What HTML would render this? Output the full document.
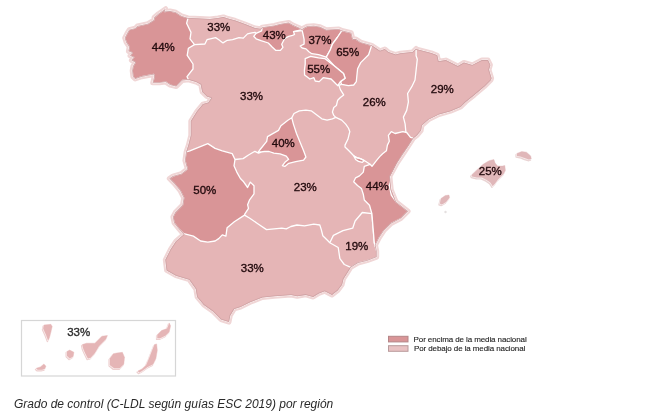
<!DOCTYPE html>
<html><head><meta charset="utf-8"><style>
html,body{margin:0;padding:0;background:#fff;width:657px;height:415px;overflow:hidden}
svg{display:block;will-change:transform}
text{font-family:"Liberation Sans",sans-serif;font-size:11.5px;fill:#230b0e;stroke:#230b0e;stroke-width:0.35px}
text.cap{stroke:none}
text.cn{fill:#2e2e2e;stroke:#2e2e2e}
text.lg{font-size:8px;letter-spacing:-0.1px;fill:#1f1f1f;stroke:#1f1f1f;stroke-width:0.12px}
text.cap{font-size:12px;font-style:italic;fill:#2a2a2a}
</style></head><body>
<svg width="657" height="415" viewBox="0 0 657 415">
<defs><mask id="mo" maskUnits="userSpaceOnUse" x="0" y="0" width="657" height="415"><rect x="0" y="0" width="657" height="415" fill="#fff"/><path d="M135.2,79.0 L132.9,76.7 L132.2,70.7 L132.9,66.3 L135.2,62.5 L131.4,60.3 L133.7,57.3 L130.0,55.8 L132.2,52.8 L128.4,51.3 L129.2,46.9 L126.2,42.4 L124.7,37.9 L127.0,33.4 L129.2,29.7 L135.2,28.2 L137.4,26.0 L147.9,23.7 L153.8,20.0 L154.1,17.4 L158.4,13.7 L165.6,8.7 L164.5,11.5 L170.0,10.9 L175.8,12.3 L181.5,15.9 L188.0,18.0 L200.0,18.5 L210.0,19.0 L218.0,18.0 L223.4,16.9 L228.0,18.5 L235.4,20.5 L245.0,24.0 L255.0,28.0 L260.4,28.8 L262.2,27.2 L274.4,25.4 L280.0,23.9 L288.7,22.4 L292.5,24.8 L299.3,27.7 L302.2,29.6 L303.1,28.2 L307.0,26.3 L313.7,25.8 L320.0,26.7 L326.3,29.7 L338.8,28.9 L342.0,30.5 L351.3,32.8 L352.9,39.1 L356.0,39.1 L360.7,42.2 L371.7,45.3 L380.0,50.8 L384.8,49.0 L388.4,52.0 L395.7,54.5 L400.5,53.3 L412.5,52.0 L416.1,48.4 L416.9,49.3 L431.3,52.9 L437.3,55.3 L438.6,61.3 L445.8,60.1 L457.8,66.1 L463.9,62.5 L472.3,64.9 L481.9,60.1 L488.0,60.1 L490.4,64.9 L489.0,69.8 L491.6,78.2 L491.0,80.0 L484.3,86.7 L474.2,95.2 L465.8,101.9 L460.7,107.0 L450.6,111.2 L438.8,114.6 L428.7,119.6 L421.9,125.5 L421.1,130.6 L416.9,135.6 L413.5,138.2 L404.3,152.3 L397.1,163.1 L389.9,176.4 L391.2,189.6 L396.0,201.7 L408.1,211.3 L400.8,218.6 L391.2,223.4 L384.0,230.6 L379.2,237.8 L375.5,245.1 L376.7,251.1 L376.7,257.1 L367.1,260.7 L358.0,263.0 L350.8,267.4 L347.2,273.2 L343.5,278.9 L342.1,284.7 L337.8,290.5 L332.0,294.9 L324.7,291.2 L318.9,293.4 L313.2,297.0 L305.9,294.9 L297.2,296.3 L291.2,295.1 L274.3,296.3 L262.3,297.5 L250.2,302.3 L240.6,307.1 L234.3,308.9 L230.3,315.5 L229.0,322.1 L221.0,319.5 L213.0,311.5 L203.8,304.9 L197.1,296.9 L195.8,289.0 L189.2,279.7 L175.9,275.7 L166.6,270.4 L165.3,259.8 L170.6,249.2 L175.9,241.2 L183.7,234.5 L178.9,228.9 L174.1,222.9 L172.9,216.9 L175.3,212.3 L182.5,205.1 L183.7,197.8 L180.1,190.6 L174.1,183.4 L169.3,178.6 L172.9,176.1 L181.3,173.7 L187.3,168.9 L184.9,160.5 L186.1,152.0 L188.4,145.0 L190.8,135.4 L190.8,121.0 L196.9,111.3 L202.9,104.1 L208.3,102.6 L211.3,98.1 L206.8,96.5 L202.2,92.0 L200.7,84.4 L196.1,82.1 L188.5,79.8 L182.4,80.5 L176.3,86.6 L170.2,85.1 L165.7,82.1 L159.6,82.8 L152.7,82.8 L154.2,76.7 L153.8,74.5 L141.9,76.7Z" fill="#000"/></mask><mask id="mi" maskUnits="userSpaceOnUse" x="0" y="0" width="657" height="415"><path d="M135.2,79.0 L132.9,76.7 L132.2,70.7 L132.9,66.3 L135.2,62.5 L131.4,60.3 L133.7,57.3 L130.0,55.8 L132.2,52.8 L128.4,51.3 L129.2,46.9 L126.2,42.4 L124.7,37.9 L127.0,33.4 L129.2,29.7 L135.2,28.2 L137.4,26.0 L147.9,23.7 L153.8,20.0 L154.1,17.4 L158.4,13.7 L165.6,8.7 L164.5,11.5 L170.0,10.9 L175.8,12.3 L181.5,15.9 L188.0,18.0 L200.0,18.5 L210.0,19.0 L218.0,18.0 L223.4,16.9 L228.0,18.5 L235.4,20.5 L245.0,24.0 L255.0,28.0 L260.4,28.8 L262.2,27.2 L274.4,25.4 L280.0,23.9 L288.7,22.4 L292.5,24.8 L299.3,27.7 L302.2,29.6 L303.1,28.2 L307.0,26.3 L313.7,25.8 L320.0,26.7 L326.3,29.7 L338.8,28.9 L342.0,30.5 L351.3,32.8 L352.9,39.1 L356.0,39.1 L360.7,42.2 L371.7,45.3 L380.0,50.8 L384.8,49.0 L388.4,52.0 L395.7,54.5 L400.5,53.3 L412.5,52.0 L416.1,48.4 L416.9,49.3 L431.3,52.9 L437.3,55.3 L438.6,61.3 L445.8,60.1 L457.8,66.1 L463.9,62.5 L472.3,64.9 L481.9,60.1 L488.0,60.1 L490.4,64.9 L489.0,69.8 L491.6,78.2 L491.0,80.0 L484.3,86.7 L474.2,95.2 L465.8,101.9 L460.7,107.0 L450.6,111.2 L438.8,114.6 L428.7,119.6 L421.9,125.5 L421.1,130.6 L416.9,135.6 L413.5,138.2 L404.3,152.3 L397.1,163.1 L389.9,176.4 L391.2,189.6 L396.0,201.7 L408.1,211.3 L400.8,218.6 L391.2,223.4 L384.0,230.6 L379.2,237.8 L375.5,245.1 L376.7,251.1 L376.7,257.1 L367.1,260.7 L358.0,263.0 L350.8,267.4 L347.2,273.2 L343.5,278.9 L342.1,284.7 L337.8,290.5 L332.0,294.9 L324.7,291.2 L318.9,293.4 L313.2,297.0 L305.9,294.9 L297.2,296.3 L291.2,295.1 L274.3,296.3 L262.3,297.5 L250.2,302.3 L240.6,307.1 L234.3,308.9 L230.3,315.5 L229.0,322.1 L221.0,319.5 L213.0,311.5 L203.8,304.9 L197.1,296.9 L195.8,289.0 L189.2,279.7 L175.9,275.7 L166.6,270.4 L165.3,259.8 L170.6,249.2 L175.9,241.2 L183.7,234.5 L178.9,228.9 L174.1,222.9 L172.9,216.9 L175.3,212.3 L182.5,205.1 L183.7,197.8 L180.1,190.6 L174.1,183.4 L169.3,178.6 L172.9,176.1 L181.3,173.7 L187.3,168.9 L184.9,160.5 L186.1,152.0 L188.4,145.0 L190.8,135.4 L190.8,121.0 L196.9,111.3 L202.9,104.1 L208.3,102.6 L211.3,98.1 L206.8,96.5 L202.2,92.0 L200.7,84.4 L196.1,82.1 L188.5,79.8 L182.4,80.5 L176.3,86.6 L170.2,85.1 L165.7,82.1 L159.6,82.8 L152.7,82.8 L154.2,76.7 L153.8,74.5 L141.9,76.7Z" fill="#fff"/></mask></defs>
<path d="M135.2,79.0 L132.9,76.7 L132.2,70.7 L132.9,66.3 L135.2,62.5 L131.4,60.3 L133.7,57.3 L130.0,55.8 L132.2,52.8 L128.4,51.3 L129.2,46.9 L126.2,42.4 L124.7,37.9 L127.0,33.4 L129.2,29.7 L135.2,28.2 L137.4,26.0 L147.9,23.7 L153.8,20.0 L154.1,17.4 L158.4,13.7 L165.6,8.7 L164.5,11.5 L170.0,10.9 L175.8,12.3 L181.5,15.9 L188.0,18.0 L200.0,18.5 L210.0,19.0 L218.0,18.0 L223.4,16.9 L228.0,18.5 L235.4,20.5 L245.0,24.0 L255.0,28.0 L260.4,28.8 L262.2,27.2 L274.4,25.4 L280.0,23.9 L288.7,22.4 L292.5,24.8 L299.3,27.7 L302.2,29.6 L303.1,28.2 L307.0,26.3 L313.7,25.8 L320.0,26.7 L326.3,29.7 L338.8,28.9 L342.0,30.5 L351.3,32.8 L352.9,39.1 L356.0,39.1 L360.7,42.2 L371.7,45.3 L380.0,50.8 L384.8,49.0 L388.4,52.0 L395.7,54.5 L400.5,53.3 L412.5,52.0 L416.1,48.4 L416.9,49.3 L431.3,52.9 L437.3,55.3 L438.6,61.3 L445.8,60.1 L457.8,66.1 L463.9,62.5 L472.3,64.9 L481.9,60.1 L488.0,60.1 L490.4,64.9 L489.0,69.8 L491.6,78.2 L491.0,80.0 L484.3,86.7 L474.2,95.2 L465.8,101.9 L460.7,107.0 L450.6,111.2 L438.8,114.6 L428.7,119.6 L421.9,125.5 L421.1,130.6 L416.9,135.6 L413.5,138.2 L404.3,152.3 L397.1,163.1 L389.9,176.4 L391.2,189.6 L396.0,201.7 L408.1,211.3 L400.8,218.6 L391.2,223.4 L384.0,230.6 L379.2,237.8 L375.5,245.1 L376.7,251.1 L376.7,257.1 L367.1,260.7 L358.0,263.0 L350.8,267.4 L347.2,273.2 L343.5,278.9 L342.1,284.7 L337.8,290.5 L332.0,294.9 L324.7,291.2 L318.9,293.4 L313.2,297.0 L305.9,294.9 L297.2,296.3 L291.2,295.1 L274.3,296.3 L262.3,297.5 L250.2,302.3 L240.6,307.1 L234.3,308.9 L230.3,315.5 L229.0,322.1 L221.0,319.5 L213.0,311.5 L203.8,304.9 L197.1,296.9 L195.8,289.0 L189.2,279.7 L175.9,275.7 L166.6,270.4 L165.3,259.8 L170.6,249.2 L175.9,241.2 L183.7,234.5 L178.9,228.9 L174.1,222.9 L172.9,216.9 L175.3,212.3 L182.5,205.1 L183.7,197.8 L180.1,190.6 L174.1,183.4 L169.3,178.6 L172.9,176.1 L181.3,173.7 L187.3,168.9 L184.9,160.5 L186.1,152.0 L188.4,145.0 L190.8,135.4 L190.8,121.0 L196.9,111.3 L202.9,104.1 L208.3,102.6 L211.3,98.1 L206.8,96.5 L202.2,92.0 L200.7,84.4 L196.1,82.1 L188.5,79.8 L182.4,80.5 L176.3,86.6 L170.2,85.1 L165.7,82.1 L159.6,82.8 L152.7,82.8 L154.2,76.7 L153.8,74.5 L141.9,76.7Z" fill="none" stroke="#f0d6d6" stroke-width="5" stroke-linejoin="round" mask="url(#mo)"/>
<path d="M135.2,79.0 L132.9,76.7 L132.2,70.7 L132.9,66.3 L135.2,62.5 L131.4,60.3 L133.7,57.3 L130.0,55.8 L132.2,52.8 L128.4,51.3 L129.2,46.9 L126.2,42.4 L124.7,37.9 L127.0,33.4 L129.2,29.7 L135.2,28.2 L137.4,26.0 L147.9,23.7 L153.8,20.0 L154.1,17.4 L158.4,13.7 L165.6,8.7 L164.5,11.5 L170.0,10.9 L175.8,12.3 L181.5,15.9 L188.0,18.0 L200.0,18.5 L210.0,19.0 L218.0,18.0 L223.4,16.9 L228.0,18.5 L235.4,20.5 L245.0,24.0 L255.0,28.0 L260.4,28.8 L262.2,27.2 L274.4,25.4 L280.0,23.9 L288.7,22.4 L292.5,24.8 L299.3,27.7 L302.2,29.6 L303.1,28.2 L307.0,26.3 L313.7,25.8 L320.0,26.7 L326.3,29.7 L338.8,28.9 L342.0,30.5 L351.3,32.8 L352.9,39.1 L356.0,39.1 L360.7,42.2 L371.7,45.3 L380.0,50.8 L384.8,49.0 L388.4,52.0 L395.7,54.5 L400.5,53.3 L412.5,52.0 L416.1,48.4 L416.9,49.3 L431.3,52.9 L437.3,55.3 L438.6,61.3 L445.8,60.1 L457.8,66.1 L463.9,62.5 L472.3,64.9 L481.9,60.1 L488.0,60.1 L490.4,64.9 L489.0,69.8 L491.6,78.2 L491.0,80.0 L484.3,86.7 L474.2,95.2 L465.8,101.9 L460.7,107.0 L450.6,111.2 L438.8,114.6 L428.7,119.6 L421.9,125.5 L421.1,130.6 L416.9,135.6 L413.5,138.2 L404.3,152.3 L397.1,163.1 L389.9,176.4 L391.2,189.6 L396.0,201.7 L408.1,211.3 L400.8,218.6 L391.2,223.4 L384.0,230.6 L379.2,237.8 L375.5,245.1 L376.7,251.1 L376.7,257.1 L367.1,260.7 L358.0,263.0 L350.8,267.4 L347.2,273.2 L343.5,278.9 L342.1,284.7 L337.8,290.5 L332.0,294.9 L324.7,291.2 L318.9,293.4 L313.2,297.0 L305.9,294.9 L297.2,296.3 L291.2,295.1 L274.3,296.3 L262.3,297.5 L250.2,302.3 L240.6,307.1 L234.3,308.9 L230.3,315.5 L229.0,322.1 L221.0,319.5 L213.0,311.5 L203.8,304.9 L197.1,296.9 L195.8,289.0 L189.2,279.7 L175.9,275.7 L166.6,270.4 L165.3,259.8 L170.6,249.2 L175.9,241.2 L183.7,234.5 L178.9,228.9 L174.1,222.9 L172.9,216.9 L175.3,212.3 L182.5,205.1 L183.7,197.8 L180.1,190.6 L174.1,183.4 L169.3,178.6 L172.9,176.1 L181.3,173.7 L187.3,168.9 L184.9,160.5 L186.1,152.0 L188.4,145.0 L190.8,135.4 L190.8,121.0 L196.9,111.3 L202.9,104.1 L208.3,102.6 L211.3,98.1 L206.8,96.5 L202.2,92.0 L200.7,84.4 L196.1,82.1 L188.5,79.8 L182.4,80.5 L176.3,86.6 L170.2,85.1 L165.7,82.1 L159.6,82.8 L152.7,82.8 L154.2,76.7 L153.8,74.5 L141.9,76.7Z" fill="none" stroke="#fff" stroke-width="0.9" stroke-linejoin="round" mask="url(#mo)"/>
<path d="M135.2,79.0 L132.9,76.7 L132.2,70.7 L132.9,66.3 L135.2,62.5 L131.4,60.3 L133.7,57.3 L130.0,55.8 L132.2,52.8 L128.4,51.3 L129.2,46.9 L126.2,42.4 L124.7,37.9 L127.0,33.4 L129.2,29.7 L135.2,28.2 L137.4,26.0 L147.9,23.7 L153.8,20.0 L154.1,17.4 L158.4,13.7 L165.6,8.7 L164.5,11.5 L170.0,10.9 L175.8,12.3 L181.5,15.9 L188.0,18.0 L200.0,18.5 L210.0,19.0 L218.0,18.0 L223.4,16.9 L228.0,18.5 L235.4,20.5 L245.0,24.0 L255.0,28.0 L260.4,28.8 L262.2,27.2 L274.4,25.4 L280.0,23.9 L288.7,22.4 L292.5,24.8 L299.3,27.7 L302.2,29.6 L303.1,28.2 L307.0,26.3 L313.7,25.8 L320.0,26.7 L326.3,29.7 L338.8,28.9 L342.0,30.5 L351.3,32.8 L352.9,39.1 L356.0,39.1 L360.7,42.2 L371.7,45.3 L380.0,50.8 L384.8,49.0 L388.4,52.0 L395.7,54.5 L400.5,53.3 L412.5,52.0 L416.1,48.4 L416.9,49.3 L431.3,52.9 L437.3,55.3 L438.6,61.3 L445.8,60.1 L457.8,66.1 L463.9,62.5 L472.3,64.9 L481.9,60.1 L488.0,60.1 L490.4,64.9 L489.0,69.8 L491.6,78.2 L491.0,80.0 L484.3,86.7 L474.2,95.2 L465.8,101.9 L460.7,107.0 L450.6,111.2 L438.8,114.6 L428.7,119.6 L421.9,125.5 L421.1,130.6 L416.9,135.6 L413.5,138.2 L404.3,152.3 L397.1,163.1 L389.9,176.4 L391.2,189.6 L396.0,201.7 L408.1,211.3 L400.8,218.6 L391.2,223.4 L384.0,230.6 L379.2,237.8 L375.5,245.1 L376.7,251.1 L376.7,257.1 L367.1,260.7 L358.0,263.0 L350.8,267.4 L347.2,273.2 L343.5,278.9 L342.1,284.7 L337.8,290.5 L332.0,294.9 L324.7,291.2 L318.9,293.4 L313.2,297.0 L305.9,294.9 L297.2,296.3 L291.2,295.1 L274.3,296.3 L262.3,297.5 L250.2,302.3 L240.6,307.1 L234.3,308.9 L230.3,315.5 L229.0,322.1 L221.0,319.5 L213.0,311.5 L203.8,304.9 L197.1,296.9 L195.8,289.0 L189.2,279.7 L175.9,275.7 L166.6,270.4 L165.3,259.8 L170.6,249.2 L175.9,241.2 L183.7,234.5 L178.9,228.9 L174.1,222.9 L172.9,216.9 L175.3,212.3 L182.5,205.1 L183.7,197.8 L180.1,190.6 L174.1,183.4 L169.3,178.6 L172.9,176.1 L181.3,173.7 L187.3,168.9 L184.9,160.5 L186.1,152.0 L188.4,145.0 L190.8,135.4 L190.8,121.0 L196.9,111.3 L202.9,104.1 L208.3,102.6 L211.3,98.1 L206.8,96.5 L202.2,92.0 L200.7,84.4 L196.1,82.1 L188.5,79.8 L182.4,80.5 L176.3,86.6 L170.2,85.1 L165.7,82.1 L159.6,82.8 L152.7,82.8 L154.2,76.7 L153.8,74.5 L141.9,76.7Z" fill="#e5b5b6" stroke="none"/>
<g mask="url(#mi)">
<path d="M362.3,212.5 L371.9,213.7 L373.1,228.2 L374.3,242.7 L376.7,251.1 L376.7,257.1 L367.1,260.7 L358.0,263.0 L350.8,267.4 L344.3,264.5 L339.9,258.7 L338.2,247.5 L329.8,242.7 L333.4,235.4 L343.0,230.6 L352.7,228.2 L355.1,221.0Z" fill="#e5b5b6" stroke="#fff" stroke-width="1.3" stroke-linejoin="round"/>
<path d="M135.2,79.0 L132.9,76.7 L132.2,70.7 L132.9,66.3 L135.2,62.5 L131.4,60.3 L133.7,57.3 L130.0,55.8 L132.2,52.8 L128.4,51.3 L129.2,46.9 L126.2,42.4 L124.7,37.9 L127.0,33.4 L129.2,29.7 L135.2,28.2 L137.4,26.0 L147.9,23.7 L153.8,20.0 L154.1,17.4 L158.4,13.7 L165.6,8.7 L164.5,11.5 L170.0,10.9 L175.8,12.3 L181.5,15.9 L188.0,18.0 L186.6,23.3 L191.0,32.4 L190.0,38.8 L194.5,44.6 L188.4,48.2 L187.2,55.4 L193.0,64.0 L193.0,69.0 L187.0,76.7 L188.5,79.8 L182.4,80.5 L176.3,86.6 L170.2,85.1 L165.7,82.1 L159.6,82.8 L152.7,82.8 L154.2,76.7 L153.8,74.5 L141.9,76.7Z" fill="#d99597" stroke="#fff" stroke-width="1.3" stroke-linejoin="round"/>
<path d="M262.2,27.2 L274.4,25.4 L280.0,23.9 L288.7,22.4 L292.5,24.8 L299.3,27.7 L302.2,29.6 L293.5,31.6 L294.5,34.5 L292.5,35.4 L288.7,36.4 L284.8,38.3 L281.7,44.2 L282.9,47.3 L280.4,50.3 L275.6,50.3 L271.9,46.7 L268.3,43.0 L261.0,40.6 L256.1,38.8 L253.7,36.3 L256.1,33.3 L261.6,30.8Z" fill="#d99597" stroke="#fff" stroke-width="1.3" stroke-linejoin="round"/>
<path d="M303.1,28.2 L307.0,26.3 L313.7,25.8 L320.0,26.7 L326.3,29.7 L338.8,28.9 L342.0,30.5 L337.3,37.5 L332.6,43.8 L330.2,50.0 L326.3,57.1 L318.6,54.7 L311.8,53.7 L308.9,51.8 L306.0,48.9 L302.2,48.0 L300.2,46.0 L304.1,44.1 L304.1,39.3 L303.1,34.5 L302.2,30.6Z" fill="#d99597" stroke="#fff" stroke-width="1.3" stroke-linejoin="round"/>
<path d="M342.0,30.5 L351.3,32.8 L352.9,39.1 L356.0,39.1 L360.7,42.2 L371.7,45.3 L368.6,54.7 L360.7,62.6 L357.6,68.8 L356.8,76.6 L356.3,81.6 L353.7,85.0 L348.4,85.6 L341.7,84.3 L340.4,81.6 L345.1,78.2 L343.5,73.5 L334.1,65.7 L326.3,57.1 L330.2,50.0 L332.6,43.8 L337.3,37.5Z" fill="#d99597" stroke="#fff" stroke-width="1.3" stroke-linejoin="round"/>
<path d="M305.2,58.6 L310.6,56.3 L318.5,57.9 L324.7,58.6 L334.1,65.7 L343.5,73.5 L345.1,78.2 L340.4,81.6 L337.7,85.6 L335.1,83.0 L331.1,79.0 L323.2,77.7 L319.2,81.6 L315.2,81.0 L313.9,77.7 L309.9,79.0 L304.6,75.0 L304.4,70.4 L305.2,64.1Z" fill="#d99597" stroke="#fff" stroke-width="1.3" stroke-linejoin="round"/>
<path d="M186.1,152.0 L189.8,150.8 L207.8,143.6 L215.1,148.4 L222.3,150.8 L232.2,153.6 L235.0,159.5 L234.0,165.8 L236.8,172.1 L240.4,178.5 L243.1,181.2 L247.6,187.5 L250.3,182.1 L254.0,185.7 L254.0,193.9 L249.4,200.2 L247.6,204.7 L248.5,208.3 L244.9,213.8 L244.5,215.1 L234.3,221.7 L227.1,227.7 L225.9,236.1 L222.3,234.9 L218.7,238.6 L215.1,241.0 L207.8,242.2 L200.6,241.0 L193.4,236.1 L188.6,234.9 L183.7,233.7 L178.9,228.9 L174.1,222.9 L172.9,216.9 L175.3,212.3 L182.5,205.1 L183.7,197.8 L180.1,190.6 L174.1,183.4 L169.3,178.6 L172.9,176.1 L181.3,173.7 L187.3,168.9 L184.9,160.5Z" fill="#d99597" stroke="#fff" stroke-width="1.3" stroke-linejoin="round"/>
<path d="M291.8,117.8 L293.4,124.1 L296.5,133.5 L300.4,142.9 L303.6,150.7 L305.9,157.0 L303.6,160.1 L295.7,161.7 L288.7,163.3 L284.8,166.4 L282.4,165.6 L285.5,161.7 L288.7,159.3 L286.3,156.2 L280.1,153.9 L273.8,153.1 L269.1,151.5 L264.4,151.5 L258.1,152.3 L259.7,150.0 L266.7,141.3 L267.5,136.6 L278.5,130.4 L280.9,125.7 L287.9,120.2Z" fill="#d99597" stroke="#fff" stroke-width="1.3" stroke-linejoin="round"/>
<path d="M413.5,138.2 L408.6,147.0 L402.8,154.7 L397.1,164.3 L392.2,175.9 L389.3,185.5 L391.3,195.2 L396.0,201.7 L408.1,211.3 L400.8,218.6 L391.2,223.4 L384.0,230.6 L379.2,237.8 L375.5,245.1 L376.7,251.1 L374.3,242.7 L373.1,228.2 L371.9,213.7 L369.5,205.3 L364.3,200.0 L363.3,194.2 L361.4,188.4 L357.5,185.5 L353.7,181.7 L355.6,177.8 L359.5,175.9 L363.3,172.1 L364.3,166.3 L370.1,164.3 L372.0,166.3 L375.8,161.4 L379.7,156.6 L382.6,153.7 L386.4,150.8 L387.4,145.1 L389.3,141.2 L388.4,135.4 L391.3,131.6 L395.1,133.5 L402.8,131.6 L406.7,132.5 L410.5,137.4Z" fill="#d99597" stroke="#fff" stroke-width="1.3" stroke-linejoin="round"/>
<path d="M353.7,155.7 L356.6,157.6 L360.4,158.6 L364.3,160.5 L362.3,162.4 L358.5,161.4 L355.6,159.5Z" fill="#d99597" stroke="#fff" stroke-width="1.3" stroke-linejoin="round"/>
<path d="M194.5,44.6 L204.9,44.0 L207.0,39.7 L211.3,38.7 L215.6,37.6 L218.8,39.7 L223.0,42.9 L227.3,40.3 L232.6,39.7 L239.0,37.6 L243.3,38.1 L247.5,33.9 L251.8,32.8 L255.0,32.3 L256.1,33.3" fill="none" stroke="#fff" stroke-width="1.3" stroke-linejoin="round"/>
<path d="M293.5,31.6 L302.2,30.6" fill="none" stroke="#fff" stroke-width="1.3" stroke-linejoin="round"/>
<path d="M339.0,85.6 L340.4,89.6 L343.7,94.9 L340.4,97.5 L337.7,100.2 L336.4,105.5 L333.8,107.5 L332.4,112.1 L333.8,115.4 L335.8,117.4" fill="none" stroke="#fff" stroke-width="1.3" stroke-linejoin="round"/>
<path d="M291.8,117.8 L294.0,113.5 L299.3,110.8 L305.9,110.1 L311.2,110.8 L316.5,114.8 L321.8,118.8 L327.1,120.1 L332.4,118.8 L335.8,117.4" fill="none" stroke="#fff" stroke-width="1.3" stroke-linejoin="round"/>
<path d="M235.0,159.5 L243.1,158.6 L248.5,155.0 L254.9,151.3 L258.5,153.1 L261.2,152.2" fill="none" stroke="#fff" stroke-width="1.3" stroke-linejoin="round"/>
<path d="M244.5,215.1 L249.8,218.2 L257.4,223.5 L266.5,229.6 L274.1,228.8 L281.8,228.1 L286.3,228.8 L290.9,226.5 L297.0,225.0 L304.6,225.8 L313.7,224.2 L319.8,225.0 L321.3,229.6 L322.8,235.7 L327.4,240.2 L329.8,242.7" fill="none" stroke="#fff" stroke-width="1.3" stroke-linejoin="round"/>
<path d="M335.8,117.4 L341.7,120.1 L345.7,124.1 L348.4,128.0 L349.8,131.6 L347.9,139.3 L345.0,145.1 L345.0,147.0 L348.9,150.8 L353.7,155.7 L356.6,157.6 L360.4,158.6 L364.3,160.5 L370.1,164.3" fill="none" stroke="#fff" stroke-width="1.3" stroke-linejoin="round"/>
<path d="M416.1,48.4 L416.1,55.7 L417.3,59.3 L416.1,70.1 L415.0,80.0 L411.8,86.7 L407.6,93.5 L408.4,101.9 L406.7,110.4 L403.4,117.1 L405.1,123.8 L405.9,132.3" fill="none" stroke="#fff" stroke-width="1.3" stroke-linejoin="round"/>
<path d="M337.7,85.6 L341.7,84.3" fill="none" stroke="#fff" stroke-width="1.3" stroke-linejoin="round"/>
</g>
<path d="M135.2,79.0 L132.9,76.7 L132.2,70.7 L132.9,66.3 L135.2,62.5 L131.4,60.3 L133.7,57.3 L130.0,55.8 L132.2,52.8 L128.4,51.3 L129.2,46.9 L126.2,42.4 L124.7,37.9 L127.0,33.4 L129.2,29.7 L135.2,28.2 L137.4,26.0 L147.9,23.7 L153.8,20.0 L154.1,17.4 L158.4,13.7 L165.6,8.7 L164.5,11.5 L170.0,10.9 L175.8,12.3 L181.5,15.9 L188.0,18.0 L200.0,18.5 L210.0,19.0 L218.0,18.0 L223.4,16.9 L228.0,18.5 L235.4,20.5 L245.0,24.0 L255.0,28.0 L260.4,28.8 L262.2,27.2 L274.4,25.4 L280.0,23.9 L288.7,22.4 L292.5,24.8 L299.3,27.7 L302.2,29.6 L303.1,28.2 L307.0,26.3 L313.7,25.8 L320.0,26.7 L326.3,29.7 L338.8,28.9 L342.0,30.5 L351.3,32.8 L352.9,39.1 L356.0,39.1 L360.7,42.2 L371.7,45.3 L380.0,50.8 L384.8,49.0 L388.4,52.0 L395.7,54.5 L400.5,53.3 L412.5,52.0 L416.1,48.4 L416.9,49.3 L431.3,52.9 L437.3,55.3 L438.6,61.3 L445.8,60.1 L457.8,66.1 L463.9,62.5 L472.3,64.9 L481.9,60.1 L488.0,60.1 L490.4,64.9 L489.0,69.8 L491.6,78.2 L491.0,80.0 L484.3,86.7 L474.2,95.2 L465.8,101.9 L460.7,107.0 L450.6,111.2 L438.8,114.6 L428.7,119.6 L421.9,125.5 L421.1,130.6 L416.9,135.6 L413.5,138.2 L404.3,152.3 L397.1,163.1 L389.9,176.4 L391.2,189.6 L396.0,201.7 L408.1,211.3 L400.8,218.6 L391.2,223.4 L384.0,230.6 L379.2,237.8 L375.5,245.1 L376.7,251.1 L376.7,257.1 L367.1,260.7 L358.0,263.0 L350.8,267.4 L347.2,273.2 L343.5,278.9 L342.1,284.7 L337.8,290.5 L332.0,294.9 L324.7,291.2 L318.9,293.4 L313.2,297.0 L305.9,294.9 L297.2,296.3 L291.2,295.1 L274.3,296.3 L262.3,297.5 L250.2,302.3 L240.6,307.1 L234.3,308.9 L230.3,315.5 L229.0,322.1 L221.0,319.5 L213.0,311.5 L203.8,304.9 L197.1,296.9 L195.8,289.0 L189.2,279.7 L175.9,275.7 L166.6,270.4 L165.3,259.8 L170.6,249.2 L175.9,241.2 L183.7,234.5 L178.9,228.9 L174.1,222.9 L172.9,216.9 L175.3,212.3 L182.5,205.1 L183.7,197.8 L180.1,190.6 L174.1,183.4 L169.3,178.6 L172.9,176.1 L181.3,173.7 L187.3,168.9 L184.9,160.5 L186.1,152.0 L188.4,145.0 L190.8,135.4 L190.8,121.0 L196.9,111.3 L202.9,104.1 L208.3,102.6 L211.3,98.1 L206.8,96.5 L202.2,92.0 L200.7,84.4 L196.1,82.1 L188.5,79.8 L182.4,80.5 L176.3,86.6 L170.2,85.1 L165.7,82.1 L159.6,82.8 L152.7,82.8 L154.2,76.7 L153.8,74.5 L141.9,76.7Z" fill="none" stroke="#cfa3a5" stroke-width="1.6" stroke-linejoin="round" mask="url(#mi)"/>
<path d="M470.8,176.3 L475.1,172.1 L482.3,165.5 L488.3,161.9 L493.1,160.7 L494.3,164.3 L496.8,167.3 L501.6,167.3 L504.0,166.7 L504.6,171.5 L502.8,175.1 L499.2,178.8 L496.8,181.2 L494.3,184.8 L491.9,187.2 L489.5,183.6 L485.9,181.2 L481.1,178.8 L476.3,178.8 L471.4,177.6Z" fill="#e9d3d3" stroke="#e9d3d3" stroke-width="1.4" stroke-linejoin="round"/>
<path d="M471.6,175.1 L475.9,170.9 L483.1,164.3 L489.1,160.7 L493.9,159.5 L495.1,163.1 L497.6,166.1 L502.4,166.1 L504.8,165.5 L505.4,170.3 L503.6,173.9 L500.0,177.6 L497.6,180.0 L495.1,183.6 L492.7,186.0 L490.3,182.4 L486.7,180.0 L481.9,177.6 L477.1,177.6 L472.2,176.4Z" fill="#fff" stroke="#fff" stroke-width="1.3" stroke-linejoin="round"/>
<path d="M471.6,175.1 L475.9,170.9 L483.1,164.3 L489.1,160.7 L493.9,159.5 L495.1,163.1 L497.6,166.1 L502.4,166.1 L504.8,165.5 L505.4,170.3 L503.6,173.9 L500.0,177.6 L497.6,180.0 L495.1,183.6 L492.7,186.0 L490.3,182.4 L486.7,180.0 L481.9,177.6 L477.1,177.6 L472.2,176.4Z" fill="#e0b7b9" stroke="#e0b7b9" stroke-width="0.4" stroke-linejoin="round"/>
<path d="M516.1,154.6 L520.9,152.8 L525.7,153.4 L529.9,157.1 L530.5,160.1 L528.1,160.7 L524.5,159.5 L519.7,157.7 L516.1,157.1Z" fill="#e9d3d3" stroke="#e9d3d3" stroke-width="1.4" stroke-linejoin="round"/>
<path d="M516.9,153.4 L521.7,151.6 L526.5,152.2 L530.7,155.9 L531.3,158.9 L528.9,159.5 L525.3,158.3 L520.5,156.5 L516.9,155.9Z" fill="#fff" stroke="#fff" stroke-width="1.3" stroke-linejoin="round"/>
<path d="M516.9,153.4 L521.7,151.6 L526.5,152.2 L530.7,155.9 L531.3,158.9 L528.9,159.5 L525.3,158.3 L520.5,156.5 L516.9,155.9Z" fill="#e0b7b9" stroke="#e0b7b9" stroke-width="0.4" stroke-linejoin="round"/>
<path d="M439.0,204.8 L440.2,199.7 L444.5,196.7 L448.2,196.3 L448.7,198.9 L445.3,203.1 L441.1,205.6Z" fill="#e9d3d3" stroke="#e9d3d3" stroke-width="1.4" stroke-linejoin="round"/>
<path d="M439.8,203.6 L441.0,198.5 L445.3,195.5 L449.0,195.1 L449.5,197.7 L446.1,201.9 L441.9,204.4Z" fill="#fff" stroke="#fff" stroke-width="1.3" stroke-linejoin="round"/>
<path d="M439.8,203.6 L441.0,198.5 L445.3,195.5 L449.0,195.1 L449.5,197.7 L446.1,201.9 L441.9,204.4Z" fill="#e0b7b9" stroke="#e0b7b9" stroke-width="0.4" stroke-linejoin="round"/>
<circle cx="445.5" cy="212" r="1.2" fill="#e4e0e0"/>
<rect x="21.5" y="320.5" width="154" height="55.5" fill="none" stroke="#d6d6d6" stroke-width="1.2"/>
<path d="M43.2,326.1 L50.2,325.4 L51.5,327.5 L50.2,333.1 L48.8,338.7 L47.4,341.5 L45.3,335.9 L42.5,329.6Z" fill="#eed0d0" stroke="#eed0d0" stroke-width="1.4" stroke-linejoin="round"/>
<path d="M43.9,325.0 L50.9,324.3 L52.2,326.4 L50.9,332.0 L49.5,337.6 L48.1,340.4 L46.0,334.8 L43.2,328.5Z" fill="#fff" stroke="#fff" stroke-width="1.3" stroke-linejoin="round"/>
<path d="M43.9,325.0 L50.9,324.3 L52.2,326.4 L50.9,332.0 L49.5,337.6 L48.1,340.4 L46.0,334.8 L43.2,328.5Z" fill="#e5b5b6" stroke="#e5b5b6" stroke-width="0.4" stroke-linejoin="round"/>
<path d="M35.5,369.4 L39.7,368.0 L43.2,365.2 L45.3,367.3 L43.9,370.1 L41.1,370.8 L36.9,370.8Z" fill="#eed0d0" stroke="#eed0d0" stroke-width="1.4" stroke-linejoin="round"/>
<path d="M36.2,368.3 L40.4,366.9 L43.9,364.1 L46.0,366.2 L44.6,369.0 L41.8,369.7 L37.6,369.7Z" fill="#fff" stroke="#fff" stroke-width="1.3" stroke-linejoin="round"/>
<path d="M36.2,368.3 L40.4,366.9 L43.9,364.1 L46.0,366.2 L44.6,369.0 L41.8,369.7 L37.6,369.7Z" fill="#e5b5b6" stroke="#e5b5b6" stroke-width="0.4" stroke-linejoin="round"/>
<path d="M66.2,352.6 L69.0,351.2 L73.2,353.3 L72.5,357.5 L69.0,359.6 L66.2,356.8Z" fill="#eed0d0" stroke="#eed0d0" stroke-width="1.4" stroke-linejoin="round"/>
<path d="M66.9,351.5 L69.7,350.1 L73.9,352.2 L73.2,356.4 L69.7,358.5 L66.9,355.7Z" fill="#fff" stroke="#fff" stroke-width="1.3" stroke-linejoin="round"/>
<path d="M66.9,351.5 L69.7,350.1 L73.9,352.2 L73.2,356.4 L69.7,358.5 L66.9,355.7Z" fill="#e5b5b6" stroke="#e5b5b6" stroke-width="0.4" stroke-linejoin="round"/>
<path d="M81.6,345.7 L85.8,344.3 L94.2,344.3 L101.2,337.3 L106.7,336.6 L105.3,340.1 L98.4,347.1 L94.2,354.0 L90.0,358.9 L87.2,359.6 L84.4,354.0 L82.3,349.1Z" fill="#eed0d0" stroke="#eed0d0" stroke-width="1.4" stroke-linejoin="round"/>
<path d="M82.3,344.6 L86.5,343.2 L94.9,343.2 L101.9,336.2 L107.4,335.5 L106.0,339.0 L99.1,346.0 L94.9,352.9 L90.7,357.8 L87.9,358.5 L85.1,352.9 L83.0,348.0Z" fill="#fff" stroke="#fff" stroke-width="1.3" stroke-linejoin="round"/>
<path d="M82.3,344.6 L86.5,343.2 L94.9,343.2 L101.9,336.2 L107.4,335.5 L106.0,339.0 L99.1,346.0 L94.9,352.9 L90.7,357.8 L87.9,358.5 L85.1,352.9 L83.0,348.0Z" fill="#e5b5b6" stroke="#e5b5b6" stroke-width="0.4" stroke-linejoin="round"/>
<path d="M109.1,359.7 L112.6,354.8 L116.1,354.1 L121.7,353.4 L123.8,358.3 L123.1,365.3 L118.9,369.4 L113.3,369.4 L109.1,366.0Z" fill="#eed0d0" stroke="#eed0d0" stroke-width="1.4" stroke-linejoin="round"/>
<path d="M109.8,358.6 L113.3,353.7 L116.8,353.0 L122.4,352.3 L124.5,357.2 L123.8,364.2 L119.6,368.3 L114.0,368.3 L109.8,364.9Z" fill="#fff" stroke="#fff" stroke-width="1.3" stroke-linejoin="round"/>
<path d="M109.8,358.6 L113.3,353.7 L116.8,353.0 L122.4,352.3 L124.5,357.2 L123.8,364.2 L119.6,368.3 L114.0,368.3 L109.8,364.9Z" fill="#e5b5b6" stroke="#e5b5b6" stroke-width="0.4" stroke-linejoin="round"/>
<path d="M137.1,372.2 L141.3,370.1 L145.5,366.0 L148.3,359.7 L151.0,352.7 L153.8,345.7 L155.9,345.0 L156.6,351.3 L155.2,359.7 L152.4,365.3 L146.9,368.1 L141.3,372.2 L138.5,373.6Z" fill="#eed0d0" stroke="#eed0d0" stroke-width="1.4" stroke-linejoin="round"/>
<path d="M137.8,371.1 L142.0,369.0 L146.2,364.9 L149.0,358.6 L151.7,351.6 L154.5,344.6 L156.6,343.9 L157.3,350.2 L155.9,358.6 L153.1,364.2 L147.6,367.0 L142.0,371.1 L139.2,372.5Z" fill="#fff" stroke="#fff" stroke-width="1.3" stroke-linejoin="round"/>
<path d="M137.8,371.1 L142.0,369.0 L146.2,364.9 L149.0,358.6 L151.7,351.6 L154.5,344.6 L156.6,343.9 L157.3,350.2 L155.9,358.6 L153.1,364.2 L147.6,367.0 L142.0,371.1 L139.2,372.5Z" fill="#e5b5b6" stroke="#e5b5b6" stroke-width="0.4" stroke-linejoin="round"/>
<path d="M156.6,335.9 L160.8,331.7 L166.4,329.6 L167.8,326.1 L168.5,324.0 L169.9,326.8 L168.5,333.1 L165.0,336.6 L159.4,339.4 L156.6,339.4Z" fill="#eed0d0" stroke="#eed0d0" stroke-width="1.4" stroke-linejoin="round"/>
<path d="M157.3,334.8 L161.5,330.6 L167.1,328.5 L168.5,325.0 L169.2,322.9 L170.6,325.7 L169.2,332.0 L165.7,335.5 L160.1,338.3 L157.3,338.3Z" fill="#fff" stroke="#fff" stroke-width="1.3" stroke-linejoin="round"/>
<path d="M157.3,334.8 L161.5,330.6 L167.1,328.5 L168.5,325.0 L169.2,322.9 L170.6,325.7 L169.2,332.0 L165.7,335.5 L160.1,338.3 L157.3,338.3Z" fill="#e5b5b6" stroke="#e5b5b6" stroke-width="0.4" stroke-linejoin="round"/>
<text x="163.3" y="50.9" text-anchor="middle">44%</text>
<text x="218.8" y="31.3" text-anchor="middle">33%</text>
<text x="274.3" y="38.9" text-anchor="middle">43%</text>
<text x="319.9" y="43.8" text-anchor="middle">37%</text>
<text x="347.7" y="56.3" text-anchor="middle">65%</text>
<text x="318.7" y="73.1" text-anchor="middle">55%</text>
<text x="251.5" y="100.0" text-anchor="middle">33%</text>
<text x="374.3" y="106.3" text-anchor="middle">26%</text>
<text x="442.3" y="93.3" text-anchor="middle">29%</text>
<text x="283.3" y="147.3" text-anchor="middle">40%</text>
<text x="204.8" y="193.5" text-anchor="middle">50%</text>
<text x="305.3" y="191.3" text-anchor="middle">23%</text>
<text x="377.3" y="189.8" text-anchor="middle">44%</text>
<text x="490.3" y="175.3" text-anchor="middle">25%</text>
<text x="356.8" y="250.3" text-anchor="middle">19%</text>
<text x="252.3" y="271.8" text-anchor="middle">33%</text>
<text x="78.7" y="336" text-anchor="middle" class="cn">33%</text>
<rect x="388.5" y="336.3" width="19.5" height="5.6" fill="#d99597" stroke="#b58587" stroke-width="1"/>
<rect x="388.5" y="345.7" width="19.5" height="5.6" fill="#e9c2c3" stroke="#b99c9d" stroke-width="1"/>
<text x="413.6" y="341.7" class="lg">Por encima de la media nacional</text>
<text x="414" y="351.4" class="lg">Por debajo de la media nacional</text>
<text x="14" y="408" class="cap">Grado de control (C-LDL según guías ESC 2019) por región</text>
</svg>
</body></html>
